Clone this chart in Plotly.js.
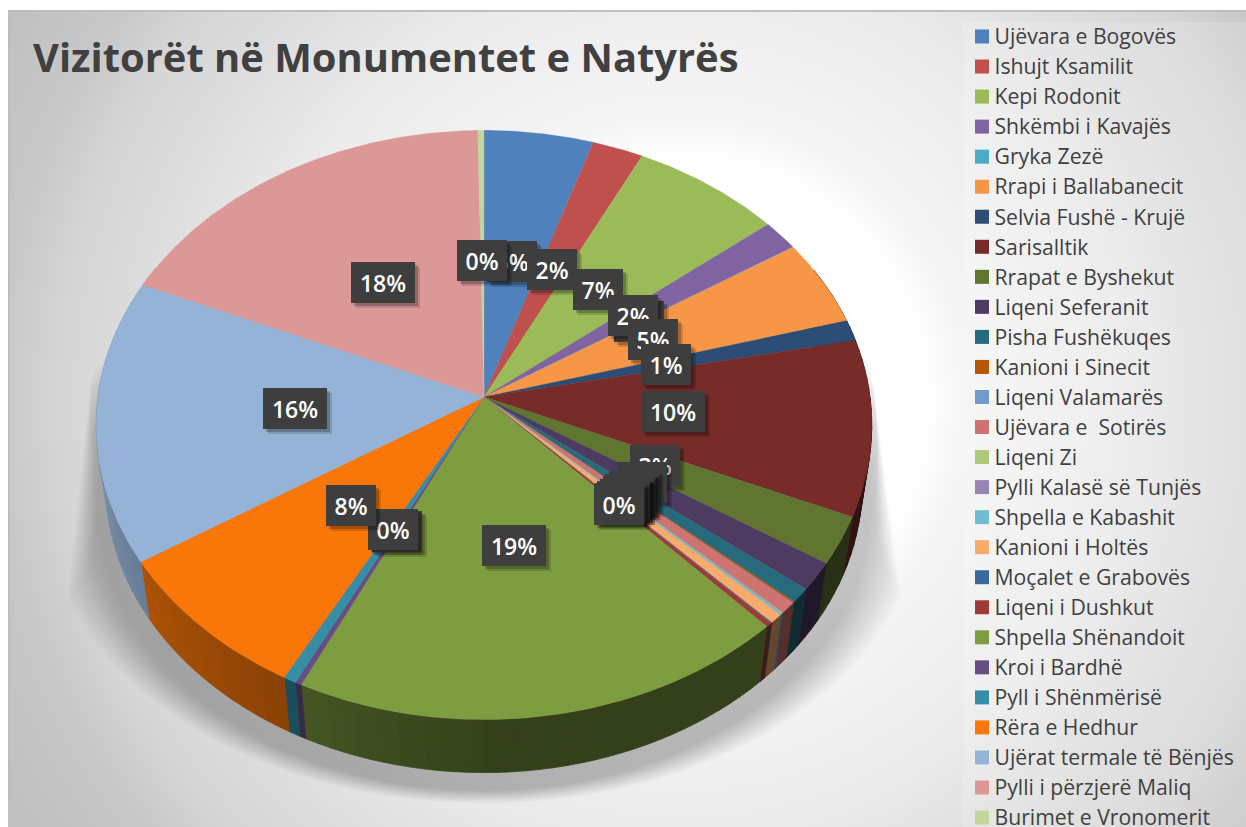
<!DOCTYPE html>
<html><head><meta charset="utf-8">
<script src="https://cdn.plot.ly/plotly-3.0.1.min.js"></script>
<style>
html,body{margin:0;padding:0;background:#fff;width:1246px;height:827px;overflow:hidden}
#bg{position:absolute;left:8px;top:10px;width:1238px;height:817px;box-sizing:border-box;border-top:2px solid #bdbdbd;border-left:2px solid #bebebe;
background:radial-gradient(circle at 672px 390px,#fff 0,#fff 240px,#f5f5f5 285px,#eaeaea 442px,#e2e2e2 505px,#dcdcdc 556px,#d6d6d6 620px,#c8c8c8 682px,#c0c0c0 777px)}
#chart{position:absolute;left:0;top:0;width:1246px;height:827px}
</style></head><body><div id="bg"></div><div id="chart"></div>
<script>
const chartTitle = "Vizitorët në Monumentet e Natyrës";
const categories = ["Ujëvara e Bogovës","Ishujt Ksamilit","Kepi Rodonit","Shkëmbi i Kavajës","Gryka Zezë","Rrapi i Ballabanecit","Selvia Fushë - Krujë","Sarisalltik","Rrapat e Byshekut","Liqeni Seferanit","Pisha Fushëkuqes","Kanioni i Sinecit","Liqeni Valamarës","Ujëvara e  Sotirës","Liqeni Zi","Pylli Kalasë së Tunjës","Shpella e Kabashit","Kanioni i Holtës","Moçalet e Grabovës","Liqeni i Dushkut","Shpella Shënandoit","Kroi i Bardhë","Pyll i Shënmërisë","Rëra e Hedhur","Ujërat termale të Bënjës","Pylli i përzjerë Maliq","Burimet e Vronomerit"];
const shares = [4.99,2.34,6.90,1.69,0.02,4.75,1.15,9.63,2.63,1.54,0.78,0.08,0.02,0.61,0.02,0.02,0.1,0.51,0.05,0.23,19.07,0.25,0.49,8.12,15.52,18.21,0.28];
const legendColors = ["#4F81BD","#C0504D","#9BBB59","#8064A2","#4BACC6","#F79646","#2C4D75","#772C2A","#5F7530","#4D3B62","#276A7C","#B65708","#729ACA","#CD7371","#AFC97A","#9983B5","#6FBDD1","#F9AB6B","#3A679C","#9E3B38","#7E9D40","#664E82","#358EA6","#F97608","#95B3D7","#DC9896","#C3D69B"];

// perspective disc model, in the picture's pixel space
const CX=484, CY=397, A=386, B=292, K=0.095, FLOOR_Y=458, FLOOR_S=0.975;
function face(r,t){const u=r*Math.sin(t),v=r*Math.cos(t),w=1+K*v;return [CX+A*u/w,CY-B*v/w];}
function floorPt(t){const p=face(1,t);return [CX+FLOOR_S*(p[0]-CX),FLOOR_Y+FLOOR_S*(p[1]-CY)];}
function shade(hex,f){const n=parseInt(hex.slice(1),16);return `rgb(${Math.round((n>>16)*f)},${Math.round(((n>>8)&255)*f)},${Math.round((n&255)*f)})`;}
function wallFactor(t){const d=t*180/Math.PI;return d>=180?0.42+(d-180)/80*0.38:0.41;}

const total=shares.reduce((a,b)=>a+b,0);
let run=0; const starts=[],ends=[];
shares.forEach(v=>{starts.push(run/total*2*Math.PI);run+=v;ends.push(run/total*2*Math.PI);});

const traces=[];
function poly(pts,fill,lineW,lineC){traces.push({type:'scatter',mode:'lines',x:pts.map(p=>p[0]),y:pts.map(p=>p[1]),fill:'toself',fillcolor:fill,line:{width:lineW,color:lineC||fill},hoverinfo:'skip',showlegend:false});}

// soft ground shadow, straight-sided above its widest row
const LAYERS=20;
for(let i=0;i<LAYERS;i++){
  const f=i/(LAYERS-1), sx=1.13-f*0.13, sy=1.01-f*0.04, pts=[];
  for(let d=0;d<=360;d+=2){
    const t=d*Math.PI/180,p=face(1,t);
    const y=478+sy*(p[1]-CY);
    let x=CX+sx*(p[0]-CX);
    const rightLim=CX+391+(y-400)/183*25*(1-f);
    const leftLim=CX-387-(y-320)/250*27*(1-f);
    x=Math.min(Math.max(x,leftLim),rightLim);
    pts.push([x,y]);
  }
  traces.push({type:'scatter',mode:'lines',x:pts.map(p=>p[0]),y:pts.map(p=>p[1]),fill:'toself',fillcolor:'rgba(0,0,0,0.013)',line:{width:0},hoverinfo:'skip',showlegend:false});
}
// outer wall strips
shares.forEach((v,i)=>{
  const a=starts[i],b=ends[i],n=Math.max(1,Math.ceil((b-a)/(2*Math.PI/180)));
  for(let j=0;j<n;j++){
    const t0=a+(b-a)*j/n,t1=a+(b-a)*(j+1)/n,tm=(t0+t1)/2;
    if(Math.cos(tm)>0.45) continue;
    const c=shade(legendColors[i],wallFactor(tm));
    const pts=[face(1,t0),face(1,tm),face(1,t1),floorPt(t1),floorPt(tm),floorPt(t0),face(1,t0)];
    poly(pts,c,0.8);
  }
});
// top face
shares.forEach((v,i)=>{
  const a=starts[i],b=ends[i],pts=[face(0,0)],n=Math.max(2,Math.ceil((b-a)/(0.5*Math.PI/180)));
  for(let j=0;j<=n;j++)pts.push(face(1,a+(b-a)*j/n));
  pts.push(face(0,0));
  poly(pts,legendColors[i],0.3);
});
// legend entries
const legendY=categories.map((c,i)=>36.5+30.04*i);
traces.push({type:'scatter',mode:'markers',x:categories.map(()=>982),y:legendY,marker:{symbol:'square',size:14,color:legendColors},hoverinfo:'skip',showlegend:false});
traces.push({type:'scatter',mode:'text',x:categories.map(()=>994.5),y:legendY.map(y=>y+2.5),text:categories,textposition:'middle right',textfont:{family:'"Open Sans",sans-serif',size:21.2,color:'#404040'},hoverinfo:'skip',showlegend:false});

// data labels; the smallest slice's label sits beneath its neighbours
const annotations=[];
const labelOrder=[4].concat(shares.map((v,i)=>i).filter(i=>i!==4));
labelOrder.forEach(i=>{
  const v=shares[i];
  const p=face(0.49,(starts[i]+ends[i])/2), txt=Math.round(v/total*100)+'%', w=txt.length>2?64:50;
  [[5,5,'rgba(0,0,0,0.14)'],[3,3,'rgba(0,0,0,0.22)']].forEach(s=>annotations.push({x:p[0]+s[0],y:p[1]+s[1],xref:'x',yref:'y',text:' ',showarrow:false,width:w,height:41,bgcolor:s[2],borderpad:0,borderwidth:0,xanchor:'center',yanchor:'middle'}));
  annotations.push({x:p[0],y:p[1],xref:'x',yref:'y',text:txt,showarrow:false,width:w,height:41,bgcolor:'#3e3e3e',borderpad:0,borderwidth:0,xanchor:'center',yanchor:'middle',align:'center',valign:'middle',font:{family:'"Open Sans",sans-serif',size:23,weight:600,color:'#fff'}});
});

const layout={
  width:1246,height:827,margin:{l:0,r:0,t:0,b:0},paper_bgcolor:'rgba(0,0,0,0)',plot_bgcolor:'rgba(0,0,0,0)',showlegend:false,
  title:{text:chartTitle,x:33/1246,xanchor:'left',y:1-58/827,yanchor:'middle',xref:'paper',yref:'paper',font:{family:'"Open Sans",sans-serif',size:39.9,weight:700,color:'#404040'}},
  xaxis:{range:[0,1246],visible:false,fixedrange:true},
  yaxis:{range:[827,0],visible:false,fixedrange:true},
  shapes:[{type:'rect',xref:'x',yref:'y',x0:963,x1:1246,y0:22,y1:827,fillcolor:'rgba(255,255,255,0.16)',line:{width:0},layer:'below'}],
  annotations:annotations
};
Plotly.newPlot('chart',traces,layout,{staticPlot:true,displayModeBar:false});
</script></body></html>
